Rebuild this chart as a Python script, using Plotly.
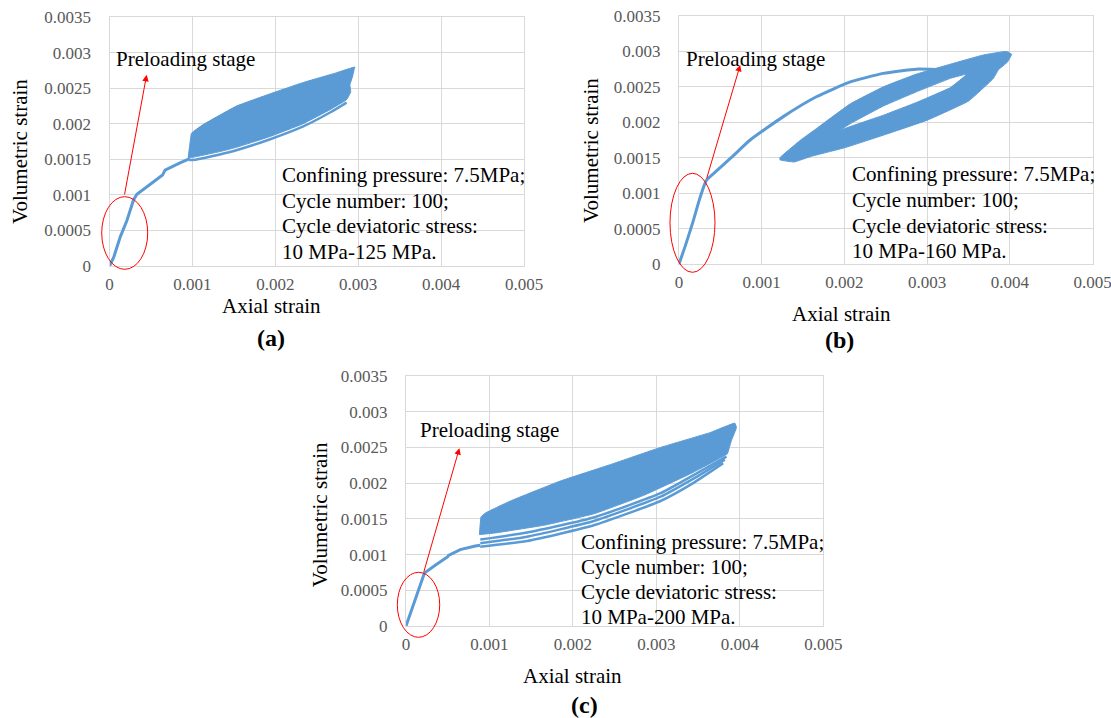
import plotly.graph_objects as go

# ---------------- data ----------------
x_tick_vals = [0, 0.001, 0.002, 0.003, 0.004, 0.005]
x_tick_text = ["0", "0.001", "0.002", "0.003", "0.004", "0.005"]
y_tick_vals = [0, 0.0005, 0.001, 0.0015, 0.002, 0.0025, 0.003, 0.0035]
y_tick_text = ["0", "0.0005", "0.001", "0.0015", "0.002", "0.0025", "0.003", "0.0035"]

# panel (a): 10 MPa-125 MPa
pre_a_x = [0, 0.00005, 0.00013, 0.00021, 0.00029, 0.00033, 0.00048, 0.00064, 0.00067, 0.00072, 0.00085, 0.00097]
pre_a_y = [0, 0.00012, 0.00041, 0.00064, 0.00093, 0.00101, 0.00114, 0.00128, 0.00135, 0.00138, 0.00145, 0.00151]
band_a_top_x = [0.00095, 0.00097, 0.00099, 0.00113, 0.00153, 0.00193, 0.00233, 0.00274, 0.00296]
band_a_top_y = [0.00152, 0.00172, 0.00187, 0.00199, 0.00225, 0.00242, 0.00258, 0.00272, 0.00280]
band_a_right_x = [0.00295, 0.00293, 0.00290, 0.00291, 0.00288, 0.00286]
band_a_right_y = [0.00276, 0.00266, 0.00255, 0.00245, 0.00238, 0.00234]
band_a_low_x = [0.00266, 0.00233, 0.00193, 0.00153, 0.00133, 0.00105, 0.00096]
band_a_low_y = [0.00220, 0.00200, 0.00182, 0.00167, 0.00161, 0.00154, 0.00152]
loop_a1_x = [0.00096, 0.00105, 0.00133, 0.00153, 0.00193, 0.00233, 0.00266, 0.00286]
loop_a1_y = [0.00149, 0.00150, 0.00157, 0.00163, 0.00178, 0.00196, 0.00216, 0.00230]

# panel (b): 10 MPa-160 MPa
pre_b_x = [0, 0.00008, 0.00017, 0.00025, 0.00033, 0.00045, 0.00063, 0.00086, 0.00126, 0.00166, 0.00207, 0.00247, 0.00287, 0.00319, 0.00340]
pre_b_y = [0, 0.00027, 0.00060, 0.00092, 0.00118, 0.00131, 0.00150, 0.00175, 0.00208, 0.00236, 0.00257, 0.00269, 0.00275, 0.00274, 0.00274]
band_b_top_x = [0.00122, 0.00146, 0.00166, 0.00207, 0.00247, 0.00287, 0.00328, 0.00368, 0.00396, 0.00402]
band_b_top_y = [0.00150, 0.00174, 0.00191, 0.00226, 0.00250, 0.00268, 0.00282, 0.00295, 0.00300, 0.00296]
band_b_right_x = [0.00397, 0.00386, 0.00380]
band_b_right_y = [0.00285, 0.00274, 0.00262]
band_b_low_x = [0.00350, 0.00300, 0.00250, 0.00200, 0.00160, 0.00139, 0.00122]
band_b_low_y = [0.00230, 0.00203, 0.00183, 0.00164, 0.00152, 0.00144, 0.00147]
hole_b_low_x = [0.00195, 0.00207, 0.00247, 0.00287, 0.00328, 0.00348]
hole_b_low_y = [0.00189, 0.00194, 0.00210, 0.00228, 0.00249, 0.00268]
hole_b_up_x = [0.00328, 0.00287, 0.00247, 0.00207]
hole_b_up_y = [0.00262, 0.00243, 0.00223, 0.00198]

# panel (c): 10 MPa-200 MPa
pre_c_x = [0, 0.00010, 0.00022, 0.00035, 0.00047, 0.00050, 0.00051, 0.00065, 0.00083, 0.00089]
pre_c_y = [0, 0.00034, 0.00074, 0.00085, 0.00094, 0.00097, 0.00099, 0.00107, 0.00112, 0.00113]
band_c_top_x = [0.00088, 0.00090, 0.00095, 0.00105, 0.00125, 0.00185, 0.00245, 0.00305, 0.00365, 0.00394]
band_c_top_y = [0.00128, 0.00153, 0.00158, 0.00164, 0.00175, 0.00203, 0.00226, 0.00250, 0.00271, 0.00284]
band_c_right_x = [0.00396, 0.00390, 0.00387, 0.00385]
band_c_right_y = [0.00278, 0.00260, 0.00248, 0.00241]
band_c_low_x = [0.00344, 0.00285, 0.00225, 0.00165, 0.00105, 0.00088]
band_c_low_y = [0.00215, 0.00183, 0.00157, 0.00141, 0.00130, 0.00128]
loop_c1_x = [0.00089, 0.00145, 0.00225, 0.00305, 0.00344, 0.00380]
loop_c1_y = [0.00111, 0.00119, 0.00141, 0.00175, 0.00200, 0.00228]
loop_c2_x = [0.00089, 0.00145, 0.00225, 0.00305, 0.00344, 0.00382]
loop_c2_y = [0.00116, 0.00125, 0.00147, 0.00181, 0.00206, 0.00233]
loop_c3_x = [0.00089, 0.00145, 0.00225, 0.00305, 0.00344, 0.00384]
loop_c3_y = [0.00121, 0.00131, 0.00152, 0.00186, 0.00211, 0.00237]

info_a = ["Confining pressure: 7.5MPa;", "Cycle number: 100;", "Cycle deviatoric stress:", "10 MPa-125 MPa."]
info_b = ["Confining pressure: 7.5MPa;", "Cycle number: 100;", "Cycle deviatoric stress:", "10 MPa-160 MPa."]
info_c = ["Confining pressure: 7.5MPa;", "Cycle number: 100;", "Cycle deviatoric stress:", "10 MPa-200 MPa."]
panel_labels = ["(a)", "(b)", "(c)"]

# ---------------- styling ----------------
W, H = 1111, 718
BLUE = "#5b9bd5"
GRID = "#d9d9d9"
FONT = "Liberation Serif, Times New Roman, serif"

fig = go.Figure()

def band_polygon(top_x, top_y, right_x, right_y, low_x, low_y, hole=None):
    xs = list(top_x) + list(right_x) + list(low_x) + [top_x[0]]
    ys = list(top_y) + list(right_y) + list(low_y) + [top_y[0]]
    if hole is not None:
        hlx, hly, hux, huy = hole
        xs += [None] + list(hlx) + list(hux) + [hlx[0]]
        ys += [None] + list(hly) + list(huy) + [hly[0]]
    return xs, ys

def add_line(x, y, xa, ya, width=3, shape="linear"):
    fig.add_trace(go.Scatter(x=x, y=y, mode="lines", xaxis=xa, yaxis=ya,
                             line=dict(color=BLUE, width=width, shape=shape, smoothing=0.5),
                             showlegend=False, hoverinfo="skip"))

def add_band(xs, ys, xa, ya):
    fig.add_trace(go.Scatter(x=xs, y=ys, mode="lines", fill="toself", fillcolor=BLUE,
                             xaxis=xa, yaxis=ya, line=dict(color=BLUE, width=1, shape="spline", smoothing=0.3),
                             showlegend=False, hoverinfo="skip"))

# panel a
xs, ys = band_polygon(band_a_top_x, band_a_top_y, band_a_right_x, band_a_right_y, band_a_low_x, band_a_low_y)
add_band(xs, ys, "x", "y")
add_line(loop_a1_x, loop_a1_y, "x", "y", 2.5, "spline")
add_line(pre_a_x, pre_a_y, "x", "y")

# panel b
xs, ys = band_polygon(band_b_top_x, band_b_top_y, band_b_right_x, band_b_right_y, band_b_low_x, band_b_low_y,
                      hole=(hole_b_low_x, hole_b_low_y, hole_b_up_x, hole_b_up_y))
add_band(xs, ys, "x2", "y2")
add_line(pre_b_x, pre_b_y, "x2", "y2", 3, "spline")

# panel c
xs, ys = band_polygon(band_c_top_x, band_c_top_y, band_c_right_x, band_c_right_y, band_c_low_x, band_c_low_y)
add_band(xs, ys, "x3", "y3")
for lx, ly in [(loop_c1_x, loop_c1_y), (loop_c2_x, loop_c2_y), (loop_c3_x, loop_c3_y)]:
    add_line(lx, ly, "x3", "y3", 2.5, "spline")
add_line(pre_c_x, pre_c_y, "x3", "y3")

# axes geometry (pixels)
panels = {
    "a": dict(x0=109.5, x1=524.0, y0=17.3, y1=266.0),
    "b": dict(x0=679.0, x1=1092.7, y0=16.0, y1=264.0),
    "c": dict(x0=406.0, x1=823.3, y0=376.0, y1=626.0),
}

def xdom(p):
    return [p["x0"] / W, p["x1"] / W]

def ydom(p):
    return [1 - p["y1"] / H, 1 - p["y0"] / H]

axis_common = dict(showgrid=True, gridcolor=GRID, gridwidth=1, zeroline=False, automargin=False,
                   showline=True, linecolor=GRID, linewidth=1, mirror=True, ticks="",
                   ticklabeloverflow="allow",
                   tickfont=dict(family=FONT, size=17, color="#595959"))

layout_axes = {}
for i, key in enumerate(["a", "b", "c"]):
    p = panels[key]
    sfx = "" if i == 0 else str(i + 1)
    layout_axes["xaxis" + sfx] = dict(axis_common, domain=xdom(p), range=[0, 0.005],
                                       tickvals=x_tick_vals, ticktext=x_tick_text,
                                       anchor="y" + sfx, ticklabelstandoff=3)
    layout_axes["yaxis" + sfx] = dict(axis_common, domain=ydom(p), range=[0, 0.0035],
                                       tickvals=y_tick_vals, ticktext=y_tick_text,
                                       anchor="x" + sfx, ticklabelstandoff=14)

fig.update_layout(width=W, height=H, margin=dict(l=0, r=0, t=0, b=0, autoexpand=False),
                  paper_bgcolor="white", plot_bgcolor="white", showlegend=False,
                  **layout_axes)

ann = []
shapes = []

def px_ann(text, px, py, size=21, bold=False, angle=0, xanchor="center"):
    t = "<b>%s</b>" % text if bold else text
    ann.append(dict(text=t, x=px / W, y=1 - py / H, xref="paper", yref="paper",
                    showarrow=False, xanchor=xanchor, yanchor="middle", textangle=angle,
                    font=dict(family=FONT, size=size, color="black")))

# axis titles and panel labels
px_ann("Volumetric strain", 20, 152, angle=-90)
px_ann("Axial strain", 271.7, 306)
px_ann(panel_labels[0], 270.5, 338, size=24, bold=True)
px_ann("Volumetric strain", 591, 151, angle=-90)
px_ann("Axial strain", 841, 314)
px_ann(panel_labels[1], 839.6, 340, size=24, bold=True)
px_ann("Volumetric strain", 320.3, 515, angle=-90)
px_ann("Axial strain", 572.8, 676)
px_ann(panel_labels[2], 584, 705, size=24, bold=True)

# info blocks
for lines, left, ys_ in [(info_a, 280, [175, 200.7, 226, 251.7]),
                         (info_b, 850, [174.3, 200, 226, 251]),
                         (info_c, 579.3, [541.7, 566.7, 592.3, 617])]:
    for t, yy in zip(lines, ys_):
        px_ann(t, left, yy, xanchor="left")

# Preloading stage labels, arrows and ellipses
pre_text = [("x", "y", 0.000055, 0.00291), ("x2", "y2", 0.000056, 0.00289), ("x3", "y3", 0.000147, 0.00274)]
for xa, ya, tx, ty in pre_text:
    ann.append(dict(text="Preloading stage", x=tx, y=ty, xref=xa, yref=ya, showarrow=False,
                    xanchor="left", yanchor="middle", font=dict(family=FONT, size=21, color="black")))

arrows = [("x", "y", 0.000178, 0.000985, 0.000448, 0.00269),
          ("x2", "y2", 0.00033, 0.00119, 0.00074, 0.00281),
          ("x3", "y3", 0.000209, 0.000738, 0.00064, 0.00249)]
for xa, ya, x0, y0, x1, y1 in arrows:
    ann.append(dict(x=x1, y=y1, ax=x0, ay=y0, xref=xa, yref=ya, axref=xa, ayref=ya,
                    showarrow=True, arrowhead=2, arrowsize=1.3, arrowwidth=1, arrowcolor="#ff0000", text=""))

ellipses = [("x", "y", -0.0188, 0.0922, -0.0133, 0.2787),
            ("x2", "y2", -0.0218, 0.087, -0.0335, 0.3657),
            ("x3", "y3", -0.0208, 0.0808, -0.0452, 0.2148)]
for xa, ya, x0, x1, y0, y1 in ellipses:
    shapes.append(dict(type="circle", xref=xa + " domain", yref=ya + " domain",
                       x0=x0, x1=x1, y0=y0, y1=y1, line=dict(color="#ff0000", width=1)))

fig.update_layout(annotations=ann, shapes=shapes)
fig.write_html("out.html", config={"displayModeBar": False},
               post_script="document.body.style.margin='0';document.body.style.overflow='hidden';")
